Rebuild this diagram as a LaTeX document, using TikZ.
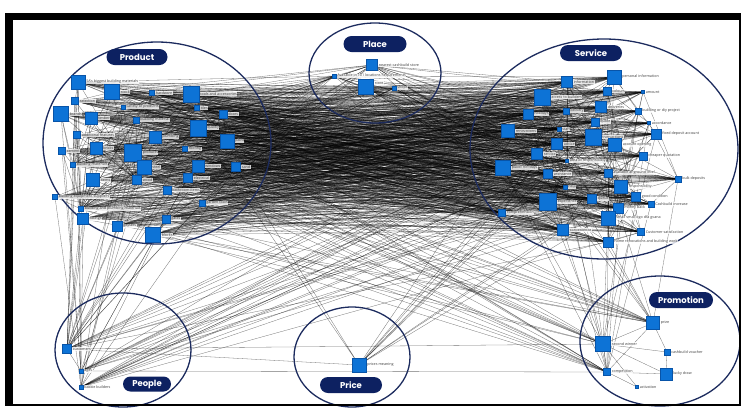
\documentclass[tikz,border=0pt]{standalone}
\usepackage{fontspec}
\usepackage{tikz}
\usetikzlibrary{
  shapes.misc
}
\usepackage{xcolor}
\definecolor{navyRing}{rgb}{0.11,0.17,0.37}
\definecolor{navyPill}{rgb}{0.05,0.13,0.38}
\definecolor{nodeBlue}{rgb}{0.05,0.45,0.84}
\definecolor{nodeEdge}{rgb}{0.03,0.33,0.66}
\newfontfamily\pillfont{Poppins}
\newfontfamily\lblfont{Open Sans}
\pgfdeclarelayer{edges}
\pgfsetlayers{edges,main}
\tikzset{
  sq/.style={
    draw=nodeEdge,
    fill=nodeBlue,
    line width=0.3pt,
    inner sep=0pt,
    minimum size=#1
  },
  lbl/.style={
    font=\lblfont\fontsize{3.7}{4}\selectfont,
    text=black!75,
    fill=white,
    fill opacity=0.8,
    text opacity=1,
    inner sep=0.4pt,
    label distance=0.5pt
  },
  link/.style={draw=black, draw opacity=0.55, line width=0.3pt},
  ring/.style={draw=navyRing, line width=1.3pt},
  pill/.style={
    rounded rectangle,
    fill=navyPill,
    text=white,
    font=\pillfont\bfseries\fontsize{8.5}{10}\selectfont,
    inner sep=0pt,
    minimum height=16
  }
}

\begin{document}
\begin{tikzpicture}[x=1pt, y=-1pt]
  \useasboundingbox (0,0) rectangle (742,408);

  % the six clusters
  \draw[ring] (157,143) ellipse [x radius=114, y radius=101];
  \draw[ring] (375,73) ellipse [x radius=66, y radius=50];
  \draw[ring] (604,149) ellipse [x radius=134, y radius=110];
  \draw[ring] (123,350) ellipse [x radius=68, y radius=57];
  \draw[ring] (352,357) ellipse [x radius=58, y radius=50];
  \draw[ring] (660,341) ellipse [x radius=80, y radius=65];

  % product
  \foreach \i/\x/\y/\s/\t in {
    1/78/82/14/{SA's biggest building materials}, 2/112/92/15/stock,
    3/152/93/5/hardware, 4/191/94/16/{tools and accessories},
    5/75/101/7/selection, 6/61/114/15/brands, 7/91/118/12/timber,
    8/123/107/4/{variety of products}, 9/136/120/6/{building material},
    10/197/108/5/tiles, 11/223/114/8/doors, 12/198/128/16/quality,
    13/77/135/7/{additional features}, 14/155/137/12/plumbing,
    15/227/141/14/paint, 16/62/151/7/cement, 17/96/148/12/bricks,
    18/133/153/17/products, 19/185/149/5/roofing,
    20/73/165/5/{building materials}, 21/144/167/14/steel,
    22/198/166/12/windows, 23/236/167/9/sand, 24/93/180/13/items,
    25/137/180/9/wood, 26/188/178/9/electrical,
    27/167/190/8/{bathroom items},
    28/55/197/5/{building equipment suppliers},
    29/202/203/6/{garden tools},
    30/81/209/5/{building and plumbing materials},
    31/83/219/11/fittings, 32/117/226/10/geysers, 33/166/219/8/gates,
    34/153/235/15/blocks}{
    \node[sq=\s, label={[lbl]right:\t}] (pr\i) at (\x,\y) {};
  }

  % place
  \node[sq=11, label={[lbl]right:nearest cashbuild store}] (pl1) at (372,65) {};
  \node[sq=4, label={[lbl]right:Available in 101 locations Requirements}] (pl2) at (334,76) {};
  \node[sq=15, label={[lbl, yshift=4]right:store}] (pl3) at (366,87) {};
  \node[sq=4, label={[lbl]right:shops}] (pl4) at (394,88) {};

  % service
  \foreach \i/\x/\y/\s/\t in {
    1/567/82/11/information, 2/614/77/14/{personal information},
    3/542/97/16/{access to builders}, 4/607/91/8/colours,
    5/643/92/3/amount, 6/528/114/10/holidays, 7/566/111/6/delivery,
    8/601/107/11/deliveries, 9/638/111/6/{building or diy project},
    10/595/122/8/quote, 11/649/123/3/accordance,
    12/508/131/13/renovations, 13/559/129/4/staff,
    14/593/137/16/transactions, 15/656/134/10/{fixed deposit account},
    16/557/144/11/advice, 17/615/145/13/{account opening},
    18/537/154/11/service, 19/643/156/8/{cheaper quotation},
    20/567/161/3/{area of responsibility},
    21/503/168/15/{public holidays}, 22/548/174/9/assistance,
    23/608/173/8/{available at ground level},
    24/678/179/6/{bulk deposits}, 25/565/187/4/help,
    26/621/187/13/responsibility, 27/548/202/17/experience,
    28/592/199/9/queue, 29/636/197/9/{good condition},
    30/618/208/10/{money back}, 31/651/204/6/{Cashbuild increase},
    32/502/213/7/comprehension,
    33/608/218/14/{small small ogo dfa gvana},
    34/563/230/11/convenience, 35/641/232/7/{Customer satisfaction},
    36/608/242/10/{home renovations and building work}}{
    \node[sq=\s, label={[lbl]right:\t}] (sv\i) at (\x,\y) {};
  }

  % people, price, promotion
  \node[sq=9, label={[lbl]right:customers}] (pe1) at (67,349) {};
  \node[sq=4, label={[lbl]right:ages}] (pe2) at (81,371) {};
  \node[sq=4, label={[lbl]right:bakkie builders}] (pe3) at (81,387) {};
  \node[sq=14, label={[lbl]right:prices meaning}] (pc1) at (359,365) {};
  \node[sq=13, label={[lbl]right:prize}] (pm1) at (653,323) {};
  \node[sq=15, label={[lbl]right:second winner}] (pm2) at (603,344) {};
  \node[sq=6, label={[lbl]right:cashbuild voucher}] (pm3) at (667,352) {};
  \node[sq=7, label={[lbl]right:competition}] (pm4) at (607,372) {};
  \node[sq=12, label={[lbl]right:lucky draw}] (pm5) at (666,374) {};
  \node[sq=3, label={[lbl]right:activation}] (pm6) at (637,387) {};

  \begin{pgfonlayer}{edges}
    % product <-> service
    \foreach \a in {1,...,34}{
      \foreach \b in {1,...,36}{
        \pgfmathtruncatemacro\k{mod(\a*7+\b*11,5)}
        \ifnum\k<3 \draw[link] (pr\a) -- (sv\b); \fi
      }
    }
    % inside product and service
    \foreach \a in {1,...,34}{
      \foreach \b in {\a,...,34}{
        \pgfmathtruncatemacro\k{mod(\a*5+\b*3,5)}
        \ifnum\k=0 \ifnum\a<\b \draw[link] (pr\a) -- (pr\b); \fi\fi
      }
    }
    \foreach \a in {1,...,36}{
      \foreach \b in {\a,...,36}{
        \pgfmathtruncatemacro\k{mod(\a*5+\b*7,6)}
        \ifnum\k=1 \ifnum\a<\b \draw[link] (sv\a) -- (sv\b); \fi\fi
      }
    }
    % place
    \foreach \p in {1,...,4}{
      \foreach \b in {1,...,34}{
        \pgfmathtruncatemacro\k{mod(\p+\b,3)}
        \ifnum\k=0 \draw[link] (pl\p) -- (pr\b); \fi
      }
      \foreach \b in {1,...,36}{
        \pgfmathtruncatemacro\k{mod(\p*2+\b,3)}
        \ifnum\k=0 \draw[link] (pl\p) -- (sv\b); \fi
      }
    }
    % people
    \foreach \b in {1,...,34}{
      \pgfmathtruncatemacro\k{mod(\b,5)}
      \ifodd\b \draw[link] (pe1) -- (pr\b); \fi
      \ifnum\k=1 \draw[link] (pe2) -- (pr\b); \fi
      \ifnum\k=3 \draw[link] (pe3) -- (pr\b); \fi
    }
    \foreach \b in {1,...,36}{
      \pgfmathtruncatemacro\k{mod(\b,4)}
      \pgfmathtruncatemacro\m{mod(\b,3)}
      \ifnum\k=0 \draw[link] (pe1) -- (sv\b); \fi
      \ifnum\k=1 \draw[link] (pe2) -- (sv\b); \fi
      \ifnum\m=2 \draw[link] (pe3) -- (sv\b); \fi
      \ifnum\k=2 \draw[link] (pc1) -- (sv\b); \fi
    }
    \draw[link] (pe1) -- (pe2) -- (pe3);
    \draw[link] (pe1) -- (pm2);
    \draw[link] (pe2) -- (pm4);
    \draw[link] (pc1) -- (pr12) (pc1) -- (pr23) (pc1) -- (pe1);
    % promotion
    \foreach \b in {1,...,34}{
      \pgfmathtruncatemacro\k{mod(\b,3)}
      \pgfmathtruncatemacro\m{mod(\b,4)}
      \ifnum\k=1 \draw[link] (pm1) -- (pr\b); \fi
      \ifnum\k=0 \draw[link] (pm4) -- (pr\b); \fi
      \ifnum\m=2 \draw[link] (pm2) -- (pr\b); \fi
    }
    \foreach \b in {1,...,36}{
      \pgfmathtruncatemacro\k{mod(\b,6)}
      \pgfmathtruncatemacro\m{mod(\b,5)}
      \ifnum\k=0 \draw[link] (pm1) -- (sv\b); \fi
      \ifnum\m=1 \draw[link] (pm4) -- (sv\b); \fi
      \ifnum\k=3 \draw[link] (pm2) -- (sv\b); \fi
    }
    \foreach \a/\b in {1/2, 1/3, 1/4, 2/3, 2/4, 2/5, 2/6, 3/5, 4/5, 4/6}{
      \draw[link] (pm\a) -- (pm\b);
    }
  \end{pgfonlayer}

  % cluster titles
  \node[pill, minimum width=61] (tProduct) at (137,57) {Product};
  \node[pill, minimum width=63] (tPlace) at (375,44) {Place};
  \node[pill, minimum width=62] (tService) at (591,53) {Service};
  \node[pill, minimum width=48, minimum height=15] (tPeople) at (147,384) {People};
  \node[pill, minimum width=62] (tPrice) at (351,385) {Price};
  \node[pill, minimum width=64] (tPromotion) at (681,300) {Promotion};

  % frame
  \draw[line width=1.6pt] (6,15) rectangle (740,405);
  \fill (5,13) rectangle (13,406);
  \fill (5,13) rectangle (741,20);
\end{tikzpicture}
\end{document}
